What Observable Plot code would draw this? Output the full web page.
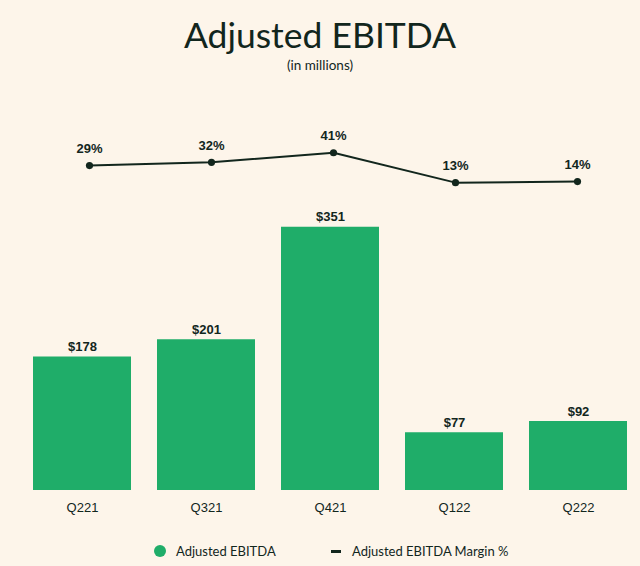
<!DOCTYPE html>
<html>
<head>
<meta charset="utf-8">
<script src="https://cdn.jsdelivr.net/npm/d3@7"></script>
<script src="https://cdn.jsdelivr.net/npm/@observablehq/plot@0.6"></script>
<style>
  html, body { margin: 0; padding: 0; background: #fdf5ea; }
  #wrap { position: relative; width: 640px; height: 566px; overflow: hidden; background: #fdf5ea; color: #12261d; }
  #title { position: absolute; top: 13px; left: 0; width: 640px; text-align: center; font-family: Lato, "Noto Sans", sans-serif; font-size: 35.5px; line-height: 44px; color: #12261d; }
  #sub { position: absolute; top: 57px; left: 0; width: 640px; text-align: center; font-family: Lato, "Noto Sans", sans-serif; font-size: 13.5px; line-height: 16px; color: #12261d; }
  #line { position: absolute; top: 110px; left: 0; }
  #bars { position: absolute; top: 200px; left: 0; }
  .leg { position: absolute; font-family: Lato, "Noto Sans", sans-serif; font-size: 13px; line-height: 16px; color: #12261d; white-space: nowrap; }
  #legdot { position: absolute; left: 154px; top: 545px; width: 12px; height: 12px; border-radius: 50%; background: #1fad69; }
  #legdash { position: absolute; left: 331px; top: 550px; width: 10px; height: 2.5px; background: #12261d; }
</style>
</head>
<body>
<div id="wrap">
  <div id="title">Adjusted EBITDA</div>
  <div id="sub">(in millions)</div>
  <div id="line"></div>
  <div id="bars"></div>
  <div id="legdot"></div>
  <div class="leg" style="left:176px; top:543px;">Adjusted EBITDA</div>
  <div id="legdash"></div>
  <div class="leg" style="left:352px; top:543px;">Adjusted EBITDA Margin %</div>
</div>
<script>
const quarters = ["Q221", "Q321", "Q421", "Q122", "Q222"];
const ebitda = [178, 201, 351, 77, 92];
const marginPct = [29, 32, 41, 13, 14];

const barColor = "#1fad69";
const ink = "#12261d";

const data = quarters.map((q, i) => ({q, v: ebitda[i], m: marginPct[i]}));

const linePlot = Plot.plot({
  width: 640,
  height: 95,
  marginLeft: 88,
  marginRight: 62,
  marginTop: 22,
  marginBottom: 9,
  x: {type: "point", domain: quarters, padding: 0, axis: null},
  y: {domain: [0, 60], axis: null},
  style: {background: "transparent", fontFamily: "'Liberation Sans', Arial, sans-serif", overflow: "visible"},
  marks: [
    Plot.line(data, {x: "q", y: "m", stroke: ink, strokeWidth: 2}),
    Plot.dot(data, {x: "q", y: "m", r: 3.6, fill: ink, stroke: "none"}),
    Plot.text(data, {x: "q", y: "m", text: d => d.m + "%", dy: -17, fontSize: 13, fontWeight: "bold", fill: ink})
  ]
});
document.getElementById("line").appendChild(linePlot);

const barPlot = Plot.plot({
  width: 640,
  height: 330,
  marginLeft: 32,
  marginRight: 12,
  marginTop: 20,
  marginBottom: 40,
  x: {domain: quarters, paddingInner: 0.21, paddingOuter: 0},
  y: {domain: [0, 360], axis: null},
  style: {background: "transparent", fontFamily: "'Liberation Sans', Arial, sans-serif", overflow: "visible"},
  marks: [
    Plot.barY(data, {x: "q", y: "v", fill: barColor}),
    Plot.text(data, {x: "q", y: "v", text: d => "$" + d.v, dy: -10, fontSize: 13, fontWeight: "bold", fill: ink}),
    Plot.axisX({tickSize: 0, tickPadding: 12, fontSize: 13, label: null, color: ink})
  ]
});
document.getElementById("bars").appendChild(barPlot);
</script>
</body>
</html>
